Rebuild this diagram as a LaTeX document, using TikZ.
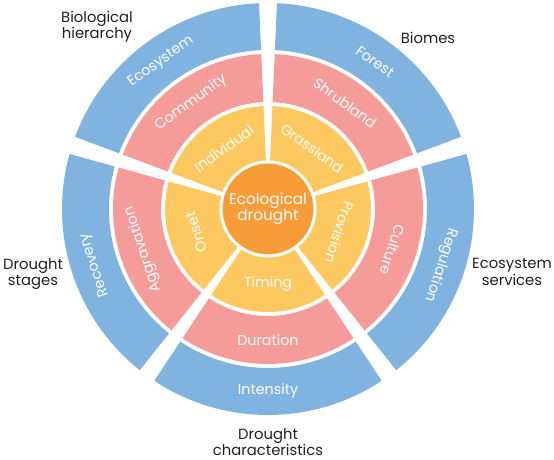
\documentclass[tikz,border=0pt]{standalone}
\usepackage{fontspec}
\setmainfont{Poppins}
\usepackage{xcolor}
\usepackage{tikz}
\usetikzlibrary{positioning}

\definecolor{ringorange}{HTML}{F69C38}
\definecolor{ringyellow}{HTML}{FEC860}
\definecolor{ringpink}{HTML}{F59C9B}
\definecolor{ringblue}{HTML}{80B3E0}
\definecolor{labelgray}{HTML}{231F20}

\begin{document}
\begin{tikzpicture}[
  x=1pt, y=1pt,
  seglabel/.style={text=white, inner sep=0pt, font=\fontsize{14.3}{16}\selectfont},
  catlabel/.style={text=labelgray, align=center, inner sep=0pt, font=\fontsize{14.8}{16.5}\selectfont},
  hub/.style={circle, fill=ringorange, draw=white, line width=3pt, minimum size=94pt,
    text=white, align=center, inner sep=0pt, font=\fontsize{15.3}{16}\selectfont}
]
\useasboundingbox (-268,-251) rectangle (286,209);

% inner ring
\fill[ringyellow] (20.5:47pt) arc[start angle=20.5, end angle=87.5, radius=47pt] -- (87.5:103pt) arc[start angle=87.5, end angle=20.5, radius=103pt] -- cycle;
\fill[ringyellow] (92.5:47pt) arc[start angle=92.5, end angle=159.5, radius=47pt] -- (159.5:103pt) arc[start angle=159.5, end angle=92.5, radius=103pt] -- cycle;
\fill[ringyellow] (164.5:47pt) arc[start angle=164.5, end angle=231.5, radius=47pt] -- (231.5:103pt) arc[start angle=231.5, end angle=164.5, radius=103pt] -- cycle;
\fill[ringyellow] (236.5:47pt) arc[start angle=236.5, end angle=303.5, radius=47pt] -- (303.5:103pt) arc[start angle=303.5, end angle=236.5, radius=103pt] -- cycle;
\fill[ringyellow] (308.5:47pt) arc[start angle=308.5, end angle=375.5, radius=47pt] -- (375.5:103pt) arc[start angle=375.5, end angle=308.5, radius=103pt] -- cycle;

% middle ring
\fill[ringpink] (20.5:107pt) arc[start angle=20.5, end angle=87.5, radius=107pt] -- (87.5:155pt) arc[start angle=87.5, end angle=20.5, radius=155pt] -- cycle;
\fill[ringpink] (92.5:107pt) arc[start angle=92.5, end angle=159.5, radius=107pt] -- (159.5:155pt) arc[start angle=159.5, end angle=92.5, radius=155pt] -- cycle;
\fill[ringpink] (164.5:107pt) arc[start angle=164.5, end angle=231.5, radius=107pt] -- (231.5:155pt) arc[start angle=231.5, end angle=164.5, radius=155pt] -- cycle;
\fill[ringpink] (236.5:107pt) arc[start angle=236.5, end angle=303.5, radius=107pt] -- (303.5:155pt) arc[start angle=303.5, end angle=236.5, radius=155pt] -- cycle;
\fill[ringpink] (308.5:107pt) arc[start angle=308.5, end angle=375.5, radius=107pt] -- (375.5:155pt) arc[start angle=375.5, end angle=308.5, radius=155pt] -- cycle;

% outer ring
\fill[ringblue] (20.5:159pt) arc[start angle=20.5, end angle=87.5, radius=159pt] -- (87.5:206pt) arc[start angle=87.5, end angle=20.5, radius=206pt] -- cycle;
\fill[ringblue] (92.5:159pt) arc[start angle=92.5, end angle=159.5, radius=159pt] -- (159.5:206pt) arc[start angle=159.5, end angle=92.5, radius=206pt] -- cycle;
\fill[ringblue] (164.5:159pt) arc[start angle=164.5, end angle=231.5, radius=159pt] -- (231.5:206pt) arc[start angle=231.5, end angle=164.5, radius=206pt] -- cycle;
\fill[ringblue] (236.5:159pt) arc[start angle=236.5, end angle=303.5, radius=159pt] -- (303.5:206pt) arc[start angle=303.5, end angle=236.5, radius=206pt] -- cycle;
\fill[ringblue] (308.5:159pt) arc[start angle=308.5, end angle=375.5, radius=159pt] -- (375.5:206pt) arc[start angle=375.5, end angle=308.5, radius=206pt] -- cycle;

\node[hub] (drought) at (0,0) {Ecological\\drought};

% segment texts
\node[seglabel, rotate=-36] (grassland) at (54:75pt) {Grassland};
\node[seglabel, rotate=-36] (shrubland) at (54:131pt) {Shrubland};
\node[seglabel, rotate=-36] (forest) at (54:182pt) {Forest};
\node[seglabel, rotate=36] (individual) at (126:75pt) {Individual};
\node[seglabel, rotate=36] (community) at (126:131pt) {Community};
\node[seglabel, rotate=36] (ecosystem) at (126:182pt) {Ecosystem};
\node[seglabel, rotate=108] (onset) at (198:75pt) {Onset};
\node[seglabel, rotate=108] (aggravation) at (198:131pt) {Aggravation};
\node[seglabel, rotate=108] (recovery) at (198:182pt) {Recovery};
\node[seglabel] (timing) at (270:75pt) {Timing};
\node[seglabel] (duration) at (270:131pt) {Duration};
\node[seglabel] (intensity) at (270:182pt) {Intensity};
\node[seglabel, rotate=-108] (provision) at (342:75pt) {Provision};
\node[seglabel, rotate=-108] (culture) at (342:131pt) {Culture};
\node[seglabel, rotate=-108] (regulation) at (342:182pt) {Regulation};

% group names
\node[catlabel] (hierarchy) at (-171,182) {Biological\\hierarchy};
\node[catlabel] (biomes) at (160,171) {Biomes};
\node[catlabel] (stages) at (-235,-65) {Drought\\stages};
\node[catlabel] (services) at (244,-63) {Ecosystem\\services};
\node[catlabel] (characteristics) at (0,-233) {Drought\\characteristics};
\end{tikzpicture}
\end{document}
